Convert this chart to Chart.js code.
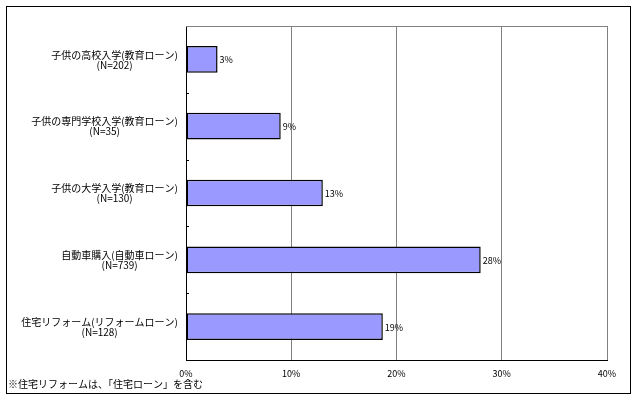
<!DOCTYPE html>
<html><head><meta charset="utf-8">
<script src="https://cdn.jsdelivr.net/npm/chart.js@4/dist/chart.umd.min.js"></script>
<style>html,body{margin:0;padding:0;background:#fff;}#wrap{width:640px;height:399px;position:relative;}</style>
</head><body><div id="wrap"><canvas id="c" width="640" height="399"></canvas></div>
<script>
const categories = ["子供の高校入学(教育ローン)", "子供の専門学校入学(教育ローン)", "子供の大学入学(教育ローン)", "自動車購入(自動車ローン)", "住宅リフォーム(リフォームローン)"];
const sampleSizes = ["(N=202)", "(N=35)", "(N=130)", "(N=739)", "(N=128)"];
const values = [3, 9, 13, 28, 18.7];
const valueLabels = ["3%", "9%", "13%", "28%", "19%"];
const xTicks = [0, 10, 20, 30, 40];
const footnote = "※住宅リフォームは、「住宅ローン」を含む";

const FONT = '"Noto Sans CJK JP", "DejaVu Sans", sans-serif';

const decor = {
  id: 'decor',
  beforeDraw(chart) {
    const ctx = chart.ctx;
    ctx.save();
    ctx.fillStyle = '#fff';
    ctx.fillRect(0, 0, chart.width, chart.height);
    ctx.restore();
  },
  afterDraw(chart) {
    const ctx = chart.ctx;
    const a = chart.chartArea;
    const y = chart.scales.y;
    ctx.save();
    // outer frame
    ctx.strokeStyle = '#000';
    ctx.lineWidth = 1;
    ctx.strokeRect(6.5, 6.5, 624, 387);
    // top plot border gray
    ctx.strokeStyle = '#808080';
    ctx.beginPath();
    ctx.moveTo(a.left, a.top + 0.5);
    ctx.lineTo(a.right, a.top + 0.5);
    ctx.stroke();
    // boundary ticks
    ctx.strokeStyle = '#000';
    for (let i = 0; i < categories.length - 1; i++) {
      const py = Math.round((y.getPixelForValue(i) + y.getPixelForValue(i + 1)) / 2) + 0.5;
      ctx.beginPath();
      ctx.moveTo(a.left, py);
      ctx.lineTo(a.left + 3, py);
      ctx.stroke();
    }
    // category labels
    ctx.fillStyle = '#000';
    ctx.font = '10px ' + FONT;
    ctx.textBaseline = 'middle';
    const rightX = a.left - 8;
    categories.forEach((c, i) => {
      const cy = y.getPixelForValue(i);
      const w = ctx.measureText(c).width;
      ctx.textAlign = 'right';
      ctx.fillText(c, rightX, cy - 4.5);
      ctx.textAlign = 'center';
      ctx.fillText(sampleSizes[i], rightX - w / 2, cy + 5.5);
    });
    // value labels
    const meta = chart.getDatasetMeta(0);
    ctx.font = '9px ' + FONT;
    ctx.textAlign = 'left';
    meta.data.forEach((bar, i) => {
      ctx.fillText(valueLabels[i], bar.x + 2, bar.y + 0.5);
    });
    // footnote
    ctx.font = '10px ' + FONT;
    ctx.textAlign = 'left';
    ctx.fillText(footnote, 8, 384);
    ctx.restore();
  }
};

new Chart(document.getElementById('c'), {
  type: 'bar',
  data: {
    labels: categories,
    datasets: [{
      data: values,
      backgroundColor: '#9999FF',
      borderColor: '#000',
      borderWidth: 1.5,
      borderSkipped: false,
      barPercentage: 0.4,
      categoryPercentage: 1.0
    }]
  },
  options: {
    indexAxis: 'y',
    responsive: false,
    animation: false,
    devicePixelRatio: 1,
    layout: { padding: { left: 6, right: 33, top: 26, bottom: 0 } },
    plugins: { legend: { display: false }, tooltip: { enabled: false } },
    scales: {
      x: {
        min: 0, max: 40,
        afterBuildTicks(scale) { scale.ticks = xTicks.map(v => ({ value: v })); },
        afterFit(scale) { scale.height = 39; },
        grid: { color: '#808080', lineWidth: 1, drawTicks: false },
        border: { display: true, color: '#000', width: 1 },
        ticks: {
          padding: 8,
          color: '#000',
          font: { size: 9, family: FONT },
          callback: v => v + '%'
        }
      },
      y: {
        offset: true,
        afterFit(scale) { scale.width = 180; },
        grid: { display: false, drawTicks: false },
        border: { display: true, color: '#000', width: 1 },
        ticks: { display: false }
      }
    }
  },
  plugins: [decor]
});
</script></body></html>
